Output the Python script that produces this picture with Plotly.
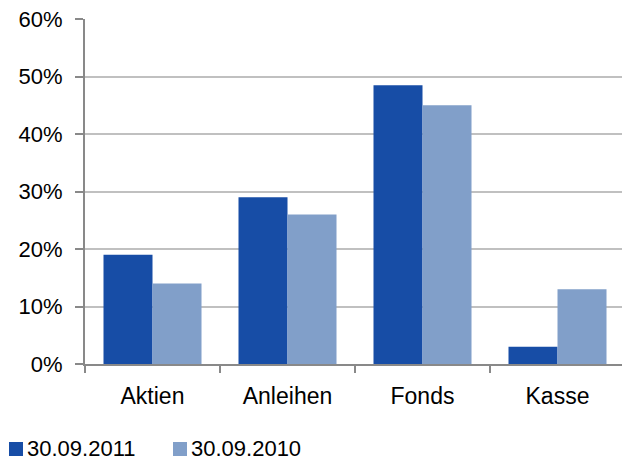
import plotly.graph_objects as go

categories = ["Aktien", "Anleihen", "Fonds", "Kasse"]
series_names = ["30.09.2011", "30.09.2010"]
series_2011 = [19, 29, 48.5, 3]
series_2010 = [14, 26, 45, 13]
y_ticks = [0, 10, 20, 30, 40, 50, 60]
y_tick_labels = ["0%", "10%", "20%", "30%", "40%", "50%", "60%"]
colors = ["#174DA6", "#819FC9"]

# page has an 8px body margin; figure coordinates = page coordinates - 8
OFF = 8
W, H = 630 - OFF, 461 - OFF
L, T = 85 - OFF, 19 - OFF
R = W - (625 - OFF)
B = H - (364 - OFF)
pw, ph = W - L - R, H - T - B


def px_x(x):
    return (x - OFF - L) / pw


def px_y(y):
    return (H - B - (y - OFF)) / ph


fig = go.Figure()
for name, vals, col in zip(series_names, [series_2011, series_2010], colors):
    fig.add_bar(x=categories, y=vals, name=name, marker_color=col, marker_line_width=0)

# custom legend (square right next to label, as in the reference)
legend_pos = [(9, 26), (173, 190)]
for (sx, tx), name, col in zip(legend_pos, series_names, colors):
    fig.add_shape(type="rect", xref="paper", yref="paper",
                  x0=px_x(sx), x1=px_x(sx + 14), y0=px_y(456), y1=px_y(442),
                  fillcolor=col, line_width=0)
    fig.add_annotation(xref="paper", yref="paper", x=px_x(tx), y=px_y(448),
                       xanchor="left", yanchor="middle", text=name, showarrow=False,
                       font=dict(size=22, color="#000000"), borderpad=0)

font = dict(family="Liberation Sans, Arial, sans-serif", size=23, color="#000000")
fig.update_layout(
    width=W, height=H,
    margin=dict(l=L, r=R, t=T, b=B, autoexpand=False),
    paper_bgcolor="white", plot_bgcolor="white",
    font=font,
    barmode="group", bargap=0.274, bargroupgap=0,
    showlegend=False,
    xaxis=dict(showline=True, linecolor="#898989", linewidth=2, ticks="outside",
               tickson="boundaries", ticklen=7, tickcolor="#898989", tickwidth=2,
               showgrid=False, tickfont=dict(size=23), ticklabelstandoff=10,
               automargin=False, ticklabeloverflow="allow"),
    yaxis=dict(range=[0, 60], tickvals=y_ticks, ticktext=y_tick_labels,
               showline=True, linecolor="#898989", linewidth=2, ticks="outside",
               ticklen=8, tickcolor="#898989", tickwidth=2,
               showgrid=True, gridcolor="#C0C0C0", gridwidth=1.5,
               zeroline=False, tickfont=dict(size=22), ticklabelstandoff=8,
               automargin=False, ticklabeloverflow="allow"),
)
fig.write_html("out.html")
